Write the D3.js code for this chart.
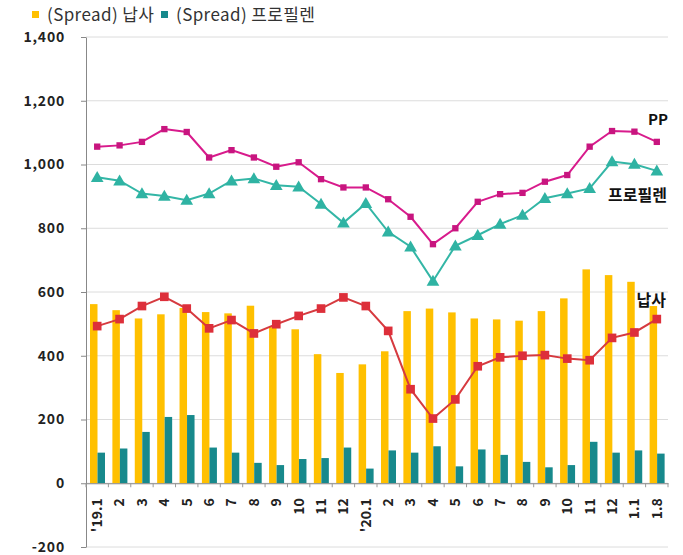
<!DOCTYPE html>
<html>
<head>
<meta charset="utf-8">
<script src="https://cdn.jsdelivr.net/npm/d3@7/dist/d3.min.js"></script>
<style>
  html, body { margin: 0; padding: 0; background: #fff; }
  svg { display: block; }
</style>
</head>
<body>
<svg id="chart" width="683" height="555"></svg>
<script>
const categories = ["'19.1","2","3","4","5","6","7","8","9","10","11","12",
                    "'20.1","2","3","4","5","6","7","8","9","10","11","12","1.1","1.8"];
const spreadNaphtha = [562,543,517,530,550,537,533,557,490,483,405,346,
                       373,414,540,548,536,517,514,510,540,580,671,653,632,556];
const spreadPropylene = [96,109,161,208,214,112,96,64,57,76,79,112,
                         46,103,96,116,53,106,89,67,50,57,130,96,103,93];
const ppPrice = [1056,1060,1071,1111,1102,1022,1045,1022,993,1007,954,928,
                 928,891,836,750,800,883,907,911,946,967,1056,1105,1103,1071];
const propylenePrice = [960,949,909,901,888,909,949,956,935,930,876,817,
                        878,789,742,634,745,778,813,841,894,909,925,1009,1001,980];
const naphthaPrice = [493,515,556,585,548,486,512,470,499,525,548,583,
                      556,478,295,203,263,367,395,400,402,391,386,456,473,515];
const yTicks = [-200,0,200,400,600,800,1000,1200,1400];
const legendLabels = ["(Spread) 납사", "(Spread) 프로필렌"];

(function () {
const svg = d3.select("#chart");
const mLeft = 86, mRight = 668, mTop = 37, mBottom = 547;
const font = "'Noto Sans CJK KR','Noto Sans',sans-serif";

const x = d3.scaleBand().domain(d3.range(categories.length)).range([mLeft, mRight]).padding(0);
const y = d3.scaleLinear().domain([-200, 1400]).range([mBottom, mTop]);

// gridlines
svg.append("g").selectAll("line").data(yTicks).join("line")
  .attr("x1", mLeft).attr("x2", mRight)
  .attr("y1", d => y(d)).attr("y2", d => y(d))
  .attr("stroke", "#dcdcdc").attr("stroke-width", 1);

// y axis
const fmt = d3.format(",");
const yAxis = svg.append("g").attr("transform", `translate(${mLeft},0)`)
  .call(d3.axisLeft(y).tickValues(yTicks).tickSize(5).tickSizeOuter(0).tickPadding(16)
        .tickFormat(d => fmt(d).replace("\u2212", "-")));
yAxis.select(".domain").attr("stroke", "#888");
yAxis.selectAll(".tick line").attr("stroke", "#888");
yAxis.selectAll("text").attr("font-family", font).attr("font-weight", "bold")
  .attr("font-size", 14).attr("fill", "#222").attr("letter-spacing", "0.8px");

// bars
const inner = d3.scaleBand().domain([0,1]).range([4, 19]).padding(0);
const barG = svg.append("g");
barG.selectAll(".bn").data(spreadNaphtha).join("rect").attr("class", "bn")
  .attr("x", (d,i) => x(i) + inner(0)).attr("width", inner.bandwidth())
  .attr("y", d => y(d)).attr("height", d => y(0) - y(d))
  .attr("fill", "#FFC000");
barG.selectAll(".bp").data(spreadPropylene).join("rect").attr("class", "bp")
  .attr("x", (d,i) => x(i) + inner(1)).attr("width", inner.bandwidth())
  .attr("y", d => y(d)).attr("height", d => y(0) - y(d))
  .attr("fill", "#17898C");

// x axis
const xAxis = svg.append("g").attr("transform", `translate(0,${y(0)})`)
  .call(d3.axisBottom(x).tickSize(0).tickFormat(""));
xAxis.select(".domain").attr("stroke", "#888");
svg.append("g").selectAll("line").data(d3.range(categories.length + 1)).join("line")
  .attr("x1", i => i < categories.length ? x(i) : mRight)
  .attr("x2", i => i < categories.length ? x(i) : mRight)
  .attr("y1", y(0)).attr("y2", y(0) + 4)
  .attr("stroke", "#999");
svg.append("g").selectAll("text").data(categories).join("text")
  .attr("transform", (d,i) => `translate(${x(i) + x.bandwidth()/2},${y(0) + 15}) rotate(-90)`)
  .attr("text-anchor", "end").attr("dy", "0.35em")
  .attr("font-family", font).attr("font-weight", "bold").attr("font-size", 14)
  .attr("fill", "#222").text(d => d);

// lines
const cx = i => x(i) + x.bandwidth()/2;
const lineGen = d3.line().x((d,i) => cx(i)).y(d => y(d));

function drawSeries(data, color, markerColor, marker, size) {
  svg.append("path").datum(data).attr("d", lineGen)
    .attr("fill", "none").attr("stroke", color).attr("stroke-width", 2);
  const sym = d3.symbol().type(marker).size(size);
  svg.append("g").selectAll("path").data(data).join("path")
    .attr("transform", (d,i) => `translate(${cx(i)},${y(d) + (marker === d3.symbolTriangle ? 1 : 0)})`)
    .attr("d", sym).attr("fill", markerColor);
}
drawSeries(ppPrice, "#D81B8C", "#C8157F", d3.symbolSquare, 40);
drawSeries(propylenePrice, "#33B6A6", "#2FB3A3", d3.symbolTriangle, 70);
drawSeries(naphthaPrice, "#D63A3F", "#DD2F3A", d3.symbolSquare, 75);

// annotations
svg.append("text").attr("x", 668).attr("y", 125).attr("text-anchor", "end")
  .attr("font-family", font).attr("font-weight", "bold").attr("font-size", 15)
  .attr("fill", "#111").text("PP");
svg.append("text").attr("x", 667).attr("y", 201).attr("text-anchor", "end")
  .attr("font-family", font).attr("font-weight", "bold").attr("font-size", 16)
  .attr("fill", "#111").text("프로필렌");
svg.append("text").attr("x", 666).attr("y", 306).attr("text-anchor", "end")
  .attr("font-family", font).attr("font-weight", "bold").attr("font-size", 16)
  .attr("fill", "#111").text("납사");

// legend
const legColors = ["#FFC000", "#17898C"];
const legX = [32, 161];
legendLabels.forEach((t, i) => {
  svg.append("rect").attr("x", legX[i]).attr("y", 11).attr("width", 7).attr("height", 7)
    .attr("fill", legColors[i]);
  svg.append("text").attr("x", legX[i] + 15).attr("y", 15).attr("dy", "0.35em")
    .attr("font-family", font).attr("font-size", 17).attr("letter-spacing", "0.4px")
    .attr("fill", "#333").text(t);
});
})();
</script>
</body>
</html>
